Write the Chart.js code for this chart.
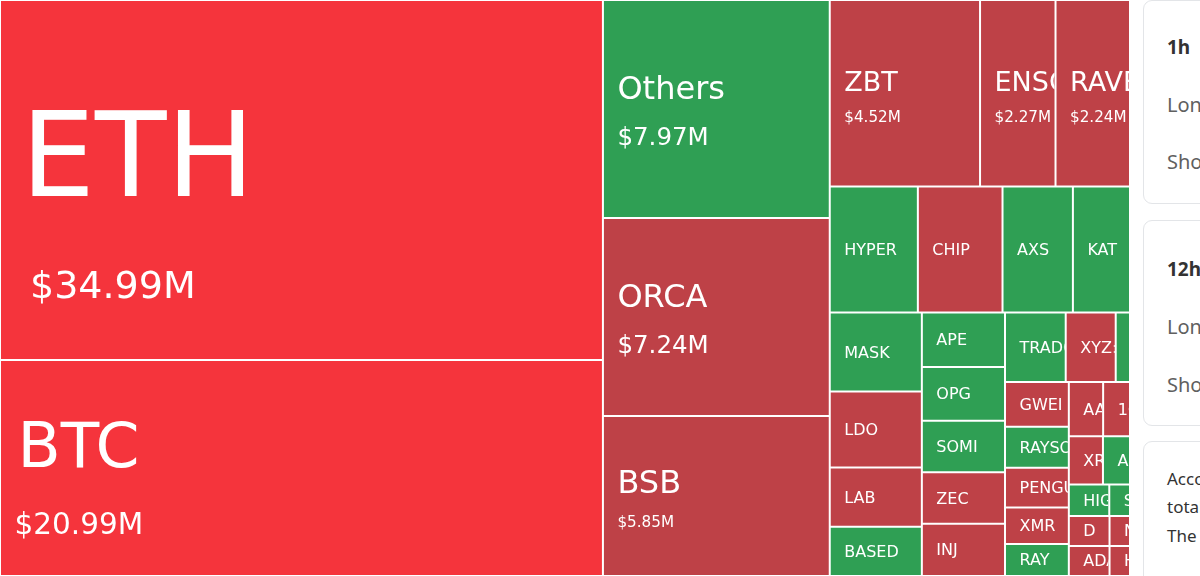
<!DOCTYPE html>
<html>
<head>
<meta charset="utf-8">
<script src="https://cdn.jsdelivr.net/npm/chart.js@4.4.1/dist/chart.umd.min.js"></script>
<style>
  html, body { margin: 0; padding: 0; width: 1200px; height: 576px; overflow: hidden; background: #ffffff; }
  #wrap { position: absolute; left: 0; top: 0; width: 1130px; height: 576px; }
  .card { position: absolute; left: 1143px; width: 320px; box-sizing: border-box; border: 1px solid #e3e5e8; border-radius: 9px; background: #fff; font-family: "Noto Sans", "Open Sans", sans-serif; white-space: nowrap; overflow: hidden; }
  .t { position: absolute; left: 23px; line-height: 24px; white-space: nowrap; }
  .h { font-weight: 700; font-size: 19px; color: #333333; }
  .r { font-size: 20px; color: #606060; }
  .p { font-size: 17px; color: #333333; }
</style>
</head>
<body>
<div id="wrap"><canvas id="c"></canvas></div>

<div class="card" style="top:0px;height:204px;">
  <div class="t h" style="top:34px;">1h</div>
  <div class="t r" style="top:92px;">Long</div>
  <div class="t r" style="top:149px;">Short</div>
</div>
<div class="card" style="top:220px;height:206px;">
  <div class="t h" style="top:36px;">12h</div>
  <div class="t r" style="top:94px;">Long</div>
  <div class="t r" style="top:152px;">Short</div>
</div>
<div class="card" style="top:441px;height:200px;">
  <div class="t p" style="top:25px;">According to the liquidation data,</div>
  <div class="t p" style="top:53px;">total liquidations in the past 24 hours</div>
  <div class="t p" style="top:82px;">The largest single liquidation order</div>
</div>

<script>
// ---- data (USD millions liquidated per coin, in layout order) ----
const names = ["ETH","BTC","Others","ORCA","BSB","ZBT","ENSO","RAVE",
  "HYPER","CHIP","AXS","KAT",
  "MASK","LDO","LAB","BASED",
  "APE","OPG","SOMI","ZEC","INJ",
  "TRADOOR","XYZ:XYZ100","WIF",
  "GWEI","RAYSOL","PENGU","XMR","RAY",
  "AAVE","1000PEPE","XRP","ASTER","HIGH","SUI","D","NEAR","ADA","H"];
const values = [34.99,20.99,7.97,7.24,5.85,4.52,2.27,2.24,
  1.79,1.72,1.43,1.16,
  1.17,1.13,0.88,0.73,
  0.73,0.72,0.69,0.69,0.70,
  0.68,0.56,0.16,
  0.46,0.42,0.41,0.375,0.33,
  0.30,0.235,0.265,0.21,0.205,0.105,0.197,0.099,0.197,0.099];
// which side dominated the liquidations: "long" (red) or "short" (green)
const dominant = ["long","long","short","long","long","long","long","long",
  "short","long","short","short",
  "short","long","long","short",
  "short","short","short","long","long",
  "short","long","short",
  "long","short","long","long","short",
  "long","long","long","short","short","short","long","long","long","long"];
// treemap strips: how many consecutive coins share a strip, and the strip direction
const stripCounts = [2,3,3,4,4,5,3,5,2,2,2,2,2];
const stripAxes = ["col","col","row","row","col","col","row","col","row","row","row","row","row"];

// ---- layout (normalised 0..1 space, turned into pixels by the chart scales) ----
function layoutCells(vals) {
  const rects = [];
  let x0 = 0, y0 = 0; const x1 = 1, y1 = 1;
  let remaining = vals.reduce((a, b) => a + b, 0);
  let i = 0;
  stripCounts.forEach((n, s) => {
    const items = vals.slice(i, i + n);
    const sum = items.reduce((a, b) => a + b, 0);
    const last = s === stripCounts.length - 1;
    if (stripAxes[s] === "col") {
      const xe = last ? x1 : x0 + (x1 - x0) * sum / remaining;
      let yy = y0;
      items.forEach((v, k) => {
        const ye = k === n - 1 ? y1 : yy + (y1 - y0) * v / sum;
        rects.push({x0: x0, x1: xe, y0: yy, y1: ye});
        yy = ye;
      });
      x0 = xe;
    } else {
      const ye = last ? y1 : y0 + (y1 - y0) * sum / remaining;
      let xx = x0;
      items.forEach((v, k) => {
        const xe = k === n - 1 ? x1 : xx + (x1 - x0) * v / sum;
        rects.push({x0: xx, x1: xe, y0: y0, y1: ye});
        xx = xe;
      });
      y0 = ye;
    }
    remaining -= sum; i += n;
  });
  return rects;
}

const HOT_RED = "#f5343c", RED = "#be4147", GREEN = "#2f9f54";
function cellColor(i) {
  if (dominant[i] === "short") return GREEN;
  return values[i] >= 20 ? HOT_RED : RED;
}
function labelStyle(v) {
  if (v >= 30) return {nf: 117, vf: 38, nx: 21, vx: 30, ny: 15.5, vy: 118};
  if (v >= 20) return {nf: 63, vf: 29.5, nx: 17.5, vx: 14.5, ny: -1, vy: 65.5};
  if (v >= 7)  return {nf: 32, vf: 24.5, nx: 14.5, vx: 14.5, ny: -10.3, vy: 36.5};
  if (v >= 5)  return {nf: 32, vf: 15.2, nx: 14.5, vx: 14.5, ny: -3, vy: 30.5};
  if (v >= 2)  return {nf: 27, vf: 15.2, nx: 14.5, vx: 14.5, ny: -2.5, vy: 29};
  return {nf: 16, nx: 14.5, ny: 5.5};
}
const FONT = '"DejaVu Sans", sans-serif';

class TreemapController extends Chart.DatasetController {
  parse() {
    const meta = this._cachedMeta;
    meta._parsed = layoutCells(this.getDataset().data.map(Number));
  }
  getMinMax() { return {min: 0, max: 1}; }
  update(mode) {
    const meta = this._cachedMeta;
    this.updateElements(meta.data, 0, meta.data.length, mode);
  }
  updateElements(elements, start, count, mode) {
    const meta = this._cachedMeta;
    const xs = meta.xScale, ys = meta.yScale;
    for (let i = start; i < start + count; i++) {
      const r = meta._parsed[i];
      if (!r) continue;
      const l = xs.getPixelForValue(r.x0), rr = xs.getPixelForValue(r.x1);
      const t = ys.getPixelForValue(r.y0), b = ys.getPixelForValue(r.y1);
      const props = {
        x: (l + rr) / 2, y: Math.min(t, b), base: Math.max(t, b),
        width: Math.abs(rr - l), height: Math.abs(b - t),
        horizontal: false, borderSkipped: {}, inflateAmount: 0,
        options: this.resolveDataElementOptions(i, mode)
      };
      this.updateElement(elements[i], i, props, "none");
    }
  }
  draw() {
    super.draw();
    const ctx = this._ctx;
    const meta = this._cachedMeta;
    const labels = this.chart.data.labels;
    const data = this.getDataset().data;
    meta.data.forEach((el, i) => {
      const {x, y, base, width} = el.getProps(["x", "y", "base", "width"], true);
      const left = x - width / 2, top = y, h = base - y;
      if (!(width > 0 && h > 0)) return;
      const st = labelStyle(data[i]);
      const cy = top + h / 2;
      ctx.save();
      ctx.beginPath();
      ctx.rect(left + 1, top + 1, width - 2, h - 2);
      ctx.clip();
      ctx.fillStyle = "#ffffff";
      ctx.textAlign = "left";
      ctx.textBaseline = "alphabetic";
      ctx.font = st.nf + "px " + FONT;
      ctx.fillText(labels[i], left + st.nx, cy + st.ny);
      if (st.vf) {
        ctx.font = st.vf + "px " + FONT;
        ctx.fillText("$" + Number(data[i]).toFixed(2) + "M", left + st.vx, cy + st.vy);
      }
      ctx.restore();
    });
  }
}
TreemapController.id = "treemapLite";
TreemapController.defaults = {dataElementType: "bar", datasetElementType: false};
Chart.register(TreemapController);

new Chart(document.getElementById("c"), {
  type: "treemapLite",
  data: {
    labels: names,
    datasets: [{
      label: "Liquidations (USD M)",
      data: values,
      backgroundColor: (c) => cellColor(c.dataIndex),
      borderColor: "#ffffff",
      borderWidth: 1,
      borderSkipped: false,
      borderRadius: 0,
      inflateAmount: 0
    }]
  },
  options: {
    responsive: true,
    maintainAspectRatio: false,
    animation: false,
    events: [],
    layout: {padding: 0},
    plugins: {legend: {display: false}, tooltip: {enabled: false}},
    scales: {
      x: {type: "linear", min: 0, max: 1, display: false},
      y: {type: "linear", min: 0, max: 1, reverse: true, display: false}
    }
  }
});
</script>
</body>
</html>
